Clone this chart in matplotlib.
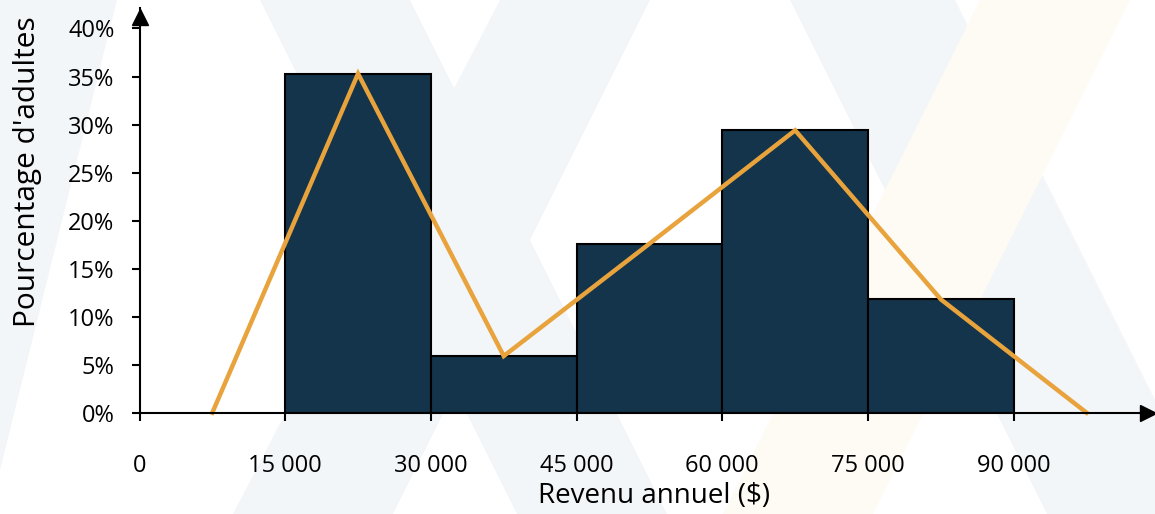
import matplotlib.pyplot as plt
from matplotlib.patches import Polygon
from matplotlib.ticker import FuncFormatter

# donnees
bornes = [15000, 30000, 45000, 60000, 75000, 90000]
pourcentages = [35.3, 5.9, 17.6, 29.4, 11.8]
poly_x = [7500, 22500, 37500, 52500, 67500, 82500, 97500]
poly_y = [0, 35.3, 5.9, 17.6, 29.4, 11.8, 0]
xticks = [0, 15000, 30000, 45000, 60000, 75000, 90000]
yticks = [0, 5, 10, 15, 20, 25, 30, 35, 40]

plt.rcParams['font.family'] = ['Open Sans', 'DejaVu Sans']

W, H = 1155, 514
fig = plt.figure(figsize=(W / 100, H / 100), dpi=100)

# filigrane en fond (coord. pixels, y depuis le haut)
bleu = '#f3f6f9'
jaune = '#fefbf4'
formes = [
    ([(0, 0), (117, 0), (0, 470)], bleu),
    ([(260, 0), (410, 0), (667, 514), (517, 514)], bleu),
    ([(500, 0), (650, 0), (393, 514), (233, 514)], bleu),
    ([(790, 0), (955, 0), (1212, 514), (1047, 514)], bleu),
    ([(980, 0), (1130, 0), (873, 514), (723, 514)], jaune),
]
for pts, c in formes:
    fig.patches.append(Polygon([(x / W, 1 - y / H) for x, y in pts],
                               closed=True, transform=fig.transFigure,
                               facecolor=c, edgecolor='none', zorder=-1))

x0, y0 = 139.5, 412.7
px_x = 145.7 / 15000
px_y = 384.2 / 40
aw, ah = W - x0, y0 - 8
ax = fig.add_axes([x0 / W, (H - y0) / H, aw / W, ah / H])
ax.set_zorder(1)
ax.patch.set_alpha(0)
ax.set_xlim(0, aw / px_x)
ax.set_ylim(0, ah / px_y)

largeurs = [bornes[i + 1] - bornes[i] for i in range(len(pourcentages))]
ax.bar(bornes[:-1], pourcentages, width=largeurs, align='edge',
       color='#13344a', edgecolor='black', linewidth=1.5, zorder=2)
ax.plot(poly_x, poly_y, color='#e8a33d', linewidth=3.2, zorder=3,
        solid_joinstyle='miter', clip_on=False)

for s in ['top', 'right']:
    ax.spines[s].set_visible(False)
for s in ['left', 'bottom']:
    ax.spines[s].set_linewidth(1.5)
    ax.spines[s].set_zorder(4)

# fleches
ax.plot((1148 - x0) / aw, 0, '>', color='black', markersize=11,
        transform=ax.transAxes, clip_on=False, zorder=5)
ax.plot(0, (y0 - 17) / ah, '^', color='black', markersize=11,
        transform=ax.transAxes, clip_on=False, zorder=5)

ax.set_xticks(xticks)
ax.xaxis.set_major_formatter(FuncFormatter(lambda v, p: f'{int(v):,}'.replace(',', ' ')))
ax.set_yticks(yticks)
ax.yaxis.set_major_formatter(FuncFormatter(lambda v, p: f'{int(v)}%'))
ax.tick_params(axis='x', length=6, width=1.5, pad=24, labelsize=17)
ax.tick_params(axis='y', length=6, width=1.5, pad=12, labelsize=17)

ax.set_xlabel('Revenu annuel ($)', fontsize=20)
ax.set_ylabel("Pourcentage d'adultes", fontsize=21.5)
ax.xaxis.set_label_coords((654 - x0) / aw, -(482 - y0) / ah)
ax.yaxis.set_label_coords(-(x0 - 42) / aw, (413 - 172) / ah)
ax.xaxis.label.set_va('top')

fig.savefig('out.png', dpi=100)
